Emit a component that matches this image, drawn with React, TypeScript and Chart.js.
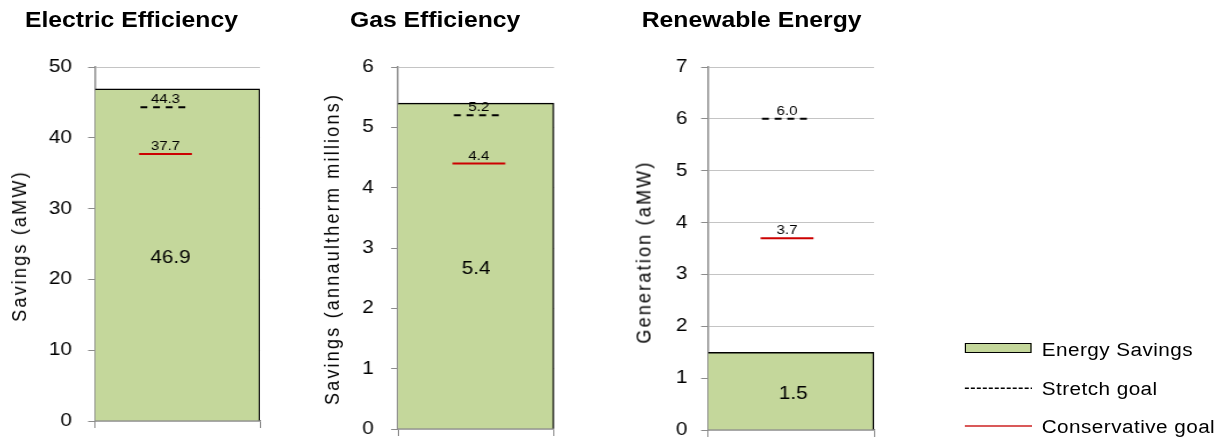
import React, { useEffect, useRef } from 'react';
import { Chart, registerables } from 'chart.js';

Chart.register(...registerables);

const FONT = "'Liberation Sans', Arial, Helvetica, sans-serif";

// ---------------- data ----------------
const panelTitles = ['Electric Efficiency', 'Gas Efficiency', 'Renewable Energy'];
const axisTitles = ['Savings (aMW)', 'Savings (annaultherm millions)', 'Generation (aMW)'];
const categories = [''];
const energySavings = [46.9, 5.4, 1.5];
const stretchGoal = [44.3, 5.2, 6.0];
const conservativeGoal = [37.7, 4.4, 3.7];
const axisMax = [50, 6, 7];
const axisStep = [10, 1, 1];
const seriesNames = ['Energy Savings', 'Stretch goal', 'Conservative goal'];

// ---------------- layout (logical px; figure stretched horizontally by SX) ----------------
const SX = 1.15;
const CANVAS_H = 460;
const X_AXIS_H = 12;
const PLOT_TOP = 67;
// plotLeft / plotRight are absolute (logical) positions; canvas spans [left, left+width]
const layouts = [
  { left: 0, width: 262, plotLeft: 82.6, plotRight: 226.1, plotBottom: 421, tickPad: 14, titleLeft: 21.7, axisX: 16.5, axisY: 246, valueShift: -6, goalShift: -10.5 },
  { left: 262, width: 252, plotLeft: 346.1, plotRight: 481.7, plotBottom: 429, tickPad: 15, titleLeft: 304.3, axisX: 288.7, axisY: 249, valueShift: 0, goalShift: 2.5 },
  { left: 514, width: 290, plotLeft: 615.7, plotRight: 760, plotBottom: 430, tickPad: 12, titleLeft: 558, axisX: 560, axisY: 252, valueShift: 2, goalShift: -3.5 },
];

const goalPlugin = {
  id: 'goalLabels',
  beforeDatasetDraw(chart: any, args: any, opts: any) {
    const ds = chart.data.datasets[args.index];
    if (ds.type === 'line') {
      const ctx = chart.ctx;
      ctx.save();
      ctx.setLineDash(ds.borderDash || []);
      ctx.translate(opts.goalShift || 0, 0);
    }
  },
  afterDatasetDraw(chart: any, args: any) {
    const ds = chart.data.datasets[args.index];
    if (ds.type === 'line') chart.ctx.restore();
  },
  afterDatasetsDraw(chart: any, _args: any, opts: any) {
    const ctx = chart.ctx;
    ctx.save();
    ctx.fillStyle = '#000';
    ctx.textAlign = 'center';
    chart.data.datasets.forEach((ds: any, i: number) => {
      const el = chart.getDatasetMeta(i).data[0];
      if (!el) return;
      const v = ds.data[0] as number;
      if (ds.type === 'line') {
        ctx.font = `13px ${FONT}`;
        ctx.textBaseline = 'alphabetic';
        ctx.fillText(v.toFixed(1), el.x + (opts.goalShift || 0), el.y - 4);
      } else {
        ctx.font = `18px ${FONT}`;
        ctx.textBaseline = 'middle';
        ctx.fillText(v.toFixed(1), el.x + (opts.valueShift || 0), (el.y + el.base) / 2 + 3);
      }
    });
    ctx.restore();
  },
};

function Panel({ i }: { i: number }) {
  const ref = useRef<HTMLCanvasElement>(null);
  const L = layouts[i];

  useEffect(() => {
    const yWidth = L.plotLeft - L.left;
    const padRight = L.left + L.width - L.plotRight;
    const chart = new Chart(ref.current as HTMLCanvasElement, {
      type: 'bar',
      data: {
        labels: categories,
        datasets: [
          {
            type: 'line',
            label: seriesNames[1],
            data: [stretchGoal[i]],
            borderColor: '#000',
            borderDash: [6, 5],
            showLine: false,
            pointStyle: 'line',
            pointRadius: 21.75,
            pointBorderWidth: 2,
            pointBorderColor: '#000',
            pointBackgroundColor: '#000',
            order: 0,
          } as any,
          {
            type: 'line',
            label: seriesNames[2],
            data: [conservativeGoal[i]],
            borderColor: '#cc0000',
            showLine: false,
            pointStyle: 'line',
            pointRadius: 23,
            pointBorderWidth: 2,
            pointBorderColor: '#cc0000',
            pointBackgroundColor: '#cc0000',
            order: 0,
          } as any,
          {
            type: 'bar',
            label: seriesNames[0],
            data: [energySavings[i]],
            backgroundColor: '#c4d79b',
            borderColor: '#000',
            borderWidth: { top: 1.5, right: 1.5, bottom: 0, left: 0 },
            borderSkipped: false,
            barPercentage: 1,
            categoryPercentage: 1,
            order: 1,
          } as any,
        ],
      },
      options: {
        responsive: false,
        maintainAspectRatio: false,
        animation: false,
        events: [],
        layout: {
          padding: {
            left: 0,
            top: PLOT_TOP,
            right: padRight,
            bottom: CANVAS_H - L.plotBottom - X_AXIS_H,
          },
        },
        plugins: {
          legend: { display: false },
          tooltip: { enabled: false },
          title: { display: false },
          goalLabels: { valueShift: L.valueShift, goalShift: L.goalShift },
        } as any,
        scales: {
          x: {
            ticks: { display: false },
            grid: {
              display: true,
              drawOnChartArea: false,
              drawTicks: true,
              tickLength: 7,
              tickColor: '#8c8c8c',
              color: '#8c8c8c',
              offset: true,
            },
            border: { display: true, color: '#8c8c8c', width: 1.5 },
            afterFit: (s: any) => {
              s.height = X_AXIS_H;
            },
          },
          y: {
            min: 0,
            max: axisMax[i],
            ticks: {
              stepSize: axisStep[i],
              color: '#000',
              font: { size: 18, family: FONT },
              padding: L.tickPad,
            },
            grid: {
              color: '#c4c4c4',
              lineWidth: 1,
              tickColor: '#8c8c8c',
              tickLength: 6,
            },
            border: { display: true, color: '#8c8c8c', width: 1.5 },
            afterFit: (s: any) => {
              s.width = yWidth;
            },
          },
        },
      } as any,
      plugins: [goalPlugin as any],
    });
    return () => chart.destroy();
  }, [i]);

  return (
    <canvas
      ref={ref}
      width={L.width}
      height={CANVAS_H}
      style={{ position: 'absolute', left: L.left, top: 0, width: L.width, height: CANVAS_H }}
    />
  );
}

export default function App() {
  useEffect(() => {
    document.body.style.margin = '0';
    document.body.style.overflow = 'hidden';
  }, []);

  const textBase: React.CSSProperties = {
    position: 'absolute',
    whiteSpace: 'nowrap',
    fontFamily: FONT,
    color: '#000',
  };

  return (
    <div style={{ position: 'relative', width: 1220, height: 438, overflow: 'hidden', background: '#fff' }}>
      <div
        style={{
          position: 'absolute',
          left: 0,
          top: 0,
          width: 1220 / SX,
          height: CANVAS_H,
          transform: `scaleX(${SX})`,
          transformOrigin: '0 0',
        }}
      >
        {layouts.map((_, i) => (
          <Panel key={i} i={i} />
        ))}

        {layouts.map((L, i) => (
          <div
            key={'t' + i}
            style={{ ...textBase, left: L.titleLeft, top: 10, fontSize: 21.5, lineHeight: '21.5px', fontWeight: 'bold' }}
          >
            {panelTitles[i]}
          </div>
        ))}

        {layouts.map((L, i) => (
          <div
            key={'a' + i}
            style={{
              ...textBase,
              left: L.axisX,
              top: L.axisY,
              fontSize: 18,
              lineHeight: '18px',
              letterSpacing: '2.2px',
              transform: 'translate(-50%, -50%) rotate(-90deg)',
            }}
          >
            {axisTitles[i]}
          </div>
        ))}

        {/* legend */}
        <div
          style={{
            position: 'absolute',
            left: 839,
            top: 342.7,
            width: 58.4,
            height: 10,
            boxSizing: 'border-box',
            border: '1.5px solid #000',
            background: '#c4d79b',
          }}
        />
        <svg style={{ position: 'absolute', left: 839, top: 382, overflow: 'visible' }} width={58.4} height={12}>
          <line x1={0} y1={6.3} x2={58.4} y2={6.3} stroke="#000" strokeWidth={1.5} strokeDasharray="3.5 1.7" />
        </svg>
        <svg style={{ position: 'absolute', left: 839, top: 420, overflow: 'visible' }} width={58.4} height={12}>
          <line x1={0} y1={6} x2={58.4} y2={6} stroke="#cc2222" strokeWidth={1.4} />
        </svg>
        {[340.8, 379.8, 417.5].map((top, k) => (
          <div
            key={'l' + k}
            style={{ ...textBase, left: 905.8, top, fontSize: 18, lineHeight: '18px', letterSpacing: '0.4px' }}
          >
            {seriesNames[k]}
          </div>
        ))}
      </div>
    </div>
  );
}
